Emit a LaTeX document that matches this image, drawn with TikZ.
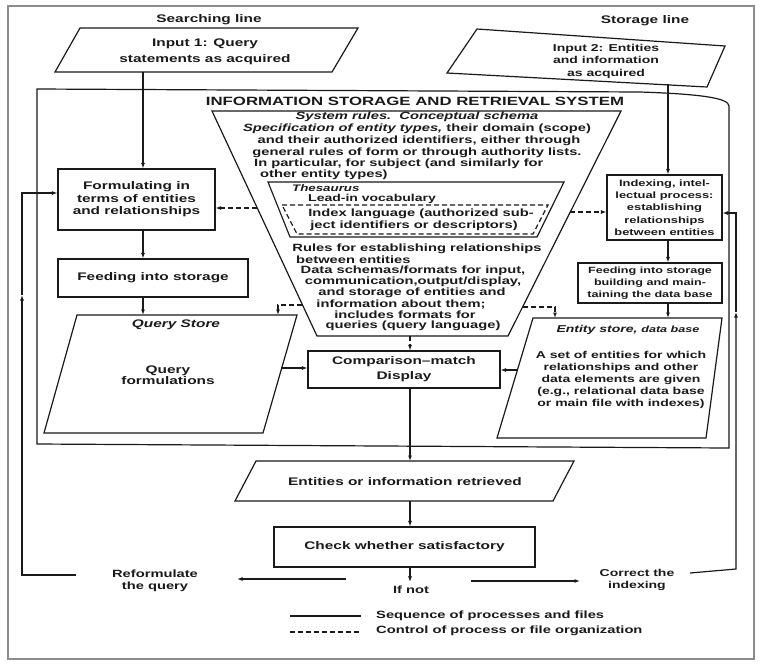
\documentclass[tikz,border=0pt]{standalone}
\usepackage{fontspec}
\setmainfont{Liberation Sans}[FakeStretch=1.4]
\usetikzlibrary{arrows.meta}
\definecolor{ink}{HTML}{1A1A1A}
\newcommand{\myfs}[2]{\fontsize{#1}{#2}\selectfont}
\begin{document}
\begin{tikzpicture}[x=1pt,y=-1pt,
  ln/.style={line width=1.2pt, draw=ink},
  arr/.style={ln, -{Latex[length=5.5pt,width=4pt]}},
  dsh/.style={arr, dash pattern=on 5pt off 3pt},
  dline/.style={ln, dash pattern=on 5pt off 3pt},
  txt/.style={font=\bfseries\myfs{11}{12.5}, align=center, inner sep=0pt, text=ink},
  itx/.style={txt, font=\bfseries\itshape\myfs{11}{12.5}},
  ttx/.style={txt, font=\bfseries\myfs{10.5}{11.5}},
  titx/.style={txt, font=\bfseries\itshape\myfs{10.5}{11.5}},
  box/.style={ln, rectangle, inner sep=0pt, align=center, text=ink, font=\bfseries\myfs{11}{12.5}},
  frame/.style={draw=black!45, line width=1.4pt}
]
\useasboundingbox (0,0) rectangle (762,665);
\fill[white] (0,0) rectangle (762,665);
\draw[frame] (8,6) rectangle (754,659);

% ---------- top labels and inputs
\node[txt] (sl) at (209,20) {Searching line};
\node[txt] (stl) at (645,21) {Storage line};

\coordinate (i1a) at (80,28); \coordinate (i1b) at (358,28);
\coordinate (i1c) at (332,72); \coordinate (i1d) at (55,72);
\draw[ln] (i1a) -- (i1b) -- (i1c) -- (i1d) -- cycle;
\node[txt, font=\bfseries\myfs{11}{16}] (in1) at (205,52) {Input 1: Query\\statements as acquired};

\coordinate (i2a) at (477,29); \coordinate (i2b) at (725,46);
\coordinate (i2c) at (707,87); \coordinate (i2d) at (447,73);
\draw[ln] (i2a) -- (i2b) -- (i2c) -- (i2d) -- cycle;
\node[txt, font=\bfseries\myfs{10}{12.5}] (in2) at (606,61) {Input 2: Entities\\and information\\as acquired};

% ---------- system frame
\draw[ln] (37,89) -- (640,92) .. controls (700,94) and (729,98) .. (729,106) -- (729,448) -- (37,444) -- cycle;
\node[txt, font=\bfseries\myfs{12}{14}] (title) at (415,101) {INFORMATION STORAGE AND RETRIEVAL SYSTEM};

% ---------- system rules trapezoid
\coordinate (tA) at (212,111); \coordinate (tB) at (621,111);
\coordinate (tC) at (508,336); \coordinate (tD) at (317,336);
\draw[ln] (tA) -- (tB) -- (tC) -- (tD) -- cycle;
\node[titx] (r1) at (417,117) {System rules.\ \ Conceptual schema};
\node[ttx] (r2) at (417,129) {\itshape Specification of entity types,\upshape\ their domain (scope)};
\node[ttx] (r3) at (419,141) {and their authorized identifiers, either through};
\node[ttx] (r4) at (417,152.5) {general rules of form or through authority lists.};
\node[ttx, anchor=west] (r5) at (254,164) {In particular, for subject (and similarly for};
\node[ttx, anchor=west] (r6) at (260,175) {other entity types)};

% thesaurus
\draw[ln] (268,182) -- (564,182) -- (537,237) -- (290,237) -- cycle;
\draw[dline] (282,205) -- (548,205) -- (533,234) -- (297,234) -- cycle;
\node[titx, anchor=west, font=\bfseries\itshape\myfs{9.5}{11}] (th1) at (292,188.5) {Thesaurus};
\node[ttx, anchor=west, font=\bfseries\myfs{10}{11}] (th2) at (308,199) {Lead-in vocabulary};
\node[ttx] (th3) at (421,214) {Index language (authorized sub-};
\node[ttx] (th4) at (414,226) {ject identifiers or descriptors)};

\node[ttx] (r7) at (417,249) {Rules for establishing relationships};
\node[ttx, anchor=west] (r8) at (296,260) {between entities};
\node[ttx] (r9) at (413,271) {Data schemas/formats for input,};
\node[ttx] (r10) at (413,282) {communication,output/display,};
\node[ttx] (r11) at (412,293) {and storage of entities and};
\node[ttx] (r12) at (401,304) {information about them;};
\node[ttx] (r13) at (405,315) {includes formats for};
\node[ttx] (r14) at (413,326) {queries (query language)};

% ---------- left column
\node[box, draw, minimum width=157pt, minimum height=61pt] (form) at (136.5,199.5) {Formulating in\\terms of entities\\and relationships};
\node[box, draw, minimum width=190pt, minimum height=38pt] (feedL) at (153,278) {Feeding into storage};

\coordinate (qs1) at (77,315); \coordinate (qs2) at (297,315);
\coordinate (qs3) at (263,433); \coordinate (qs4) at (44,433);
\draw[ln] (qs1) -- (qs2) -- (qs3) -- (qs4) -- cycle;
\node[itx] (qst) at (176,325) {Query Store};
\node[txt, font=\bfseries\myfs{11}{11.5}] (qsb) at (168,375) {Query\\formulations};

% ---------- right column
\node[box, draw, minimum width=115pt, minimum height=65pt, font=\bfseries\myfs{9.2}{12.3}] (idx) at (664.5,207.5) {Indexing, intel-\\lectual process:\\establishing\\relationships\\between entities};
\node[box, draw, minimum width=144pt, minimum height=40pt, font=\bfseries\myfs{9}{12}] (feedR) at (650,283) {Feeding into storage\\building and main-\\taining the data base};

\coordinate (es1) at (533,318); \coordinate (es2) at (722,318);
\coordinate (es3) at (706,438); \coordinate (es4) at (497,438);
\draw[ln] (es1) -- (es2) -- (es3) -- (es4) -- cycle;
\node[itx, font=\bfseries\itshape\myfs{10}{12}] (est) at (628,330) {Entity store, {\myfs{9}{12}data base}};
\node[txt, font=\bfseries\myfs{10}{12}] (esb) at (621,380) {A set of entities for which\\relationships and other\\data elements are given\\(e.g., relational data base\\or main file with indexes)};

% ---------- centre
\node[box, draw, minimum width=192pt, minimum height=37pt, font=\bfseries\myfs{11}{15}] (cmp) at (404,369.5) {Comparison--match\\Display};

\coordinate (rt1) at (256,461); \coordinate (rt2) at (574,461);
\coordinate (rt3) at (553,501); \coordinate (rt4) at (235,501);
\draw[ln] (rt1) -- (rt2) -- (rt3) -- (rt4) -- cycle;
\node[txt] (ret) at (405,482) {Entities or information retrieved};

\node[box, draw, minimum width=261pt, minimum height=40pt] (chk) at (404.5,547) {Check whether satisfactory};

\node[txt, font=\bfseries\myfs{10.5}{12}] (ifnot) at (411,590) {If not};
\node[txt, font=\bfseries\myfs{10.5}{12}] (reform) at (155,581) {Reformulate\\the query};
\node[txt, font=\bfseries\myfs{10}{12}] (corr) at (637,580) {Correct the\\indexing};

% ---------- connectors, searching line
\coordinate (cxL) at (143,72);
\draw[arr] (cxL) -- (form.north -| cxL);
\draw[arr] (form.south -| cxL) -- (feedL.north -| cxL);
\draw[arr] (feedL.south -| cxL) -- (qs1 -| cxL);
\coordinate (qsR) at (281,368);
\draw[arr] (qsR) -- (cmp.west |- qsR);

% storage line
\coordinate (cxR) at (668,84);
\draw[arr] (cxR) -- (idx.north -| cxR);
\draw[arr] (idx.south -| cxR) -- (feedR.north -| cxR);
\draw[arr] (feedR.south -| cxR) -- (es1 -| cxR);
\coordinate (esL) at (517,370);
\draw[arr] (esL) -- (cmp.east |- esL);

% control (dashed)
\coordinate (trL1) at (257,208);
\draw[dsh] (trL1) -- (form.east |- trL1);
\coordinate (trR1) at (570,212);
\draw[dsh] (trR1) -- (idx.west |- trR1);
\coordinate (trL2) at (302,305); \coordinate (trL2b) at (278,305);
\draw[dsh] (trL2) -- (trL2b) -- (qs1 -| trL2b);
\coordinate (trR2) at (523,307); \coordinate (trR2b) at (555,307);
\draw[dsh] (trR2) -- (trR2b) -- (es1 -| trR2b);
\coordinate (tBot) at (410,336);
\draw[dsh] (tBot) -- (cmp.north -| tBot);

% retrieval line
\coordinate (cx) at (410,0);
\draw[arr] (cmp.south -| cx) -- (rt1 -| cx);
\draw[arr] (rt4 -| cx) -- (chk.north -| cx);
\draw[arr] (chk.south -| cx) -- ([yshift=4pt]ifnot.north -| cx);

\coordinate (la1) at (346,579); \coordinate (la2) at (237,579);
\draw[arr] (la1) -- (la2);
\coordinate (ra1) at (471,581); \coordinate (ra2) at (580,581);
\draw[arr] (ra1) -- (ra2);

% feedback loops
\coordinate (fbL0) at (76,575); \coordinate (fbL1) at (22,575);
\coordinate (fbL2) at (22,295); \coordinate (fbL3) at (22,193);
\draw[arr] (fbL0) -- (fbL1) -- (fbL2);
\draw[arr] (fbL2) -- (fbL3) -- (fbL3 -| form.west);

\coordinate (fbR0) at (690,573); \coordinate (fbR1) at (736,569);
\coordinate (fbR2) at (736,312); \coordinate (fbR3) at (736,213);
\draw[arr] (fbR0) -- (fbR1) -- (fbR2);
\draw[arr] (fbR2) -- (fbR3) -- (fbR3 -| idx.east);

% ---------- legend
\coordinate (lg1) at (290,616); \coordinate (lg2) at (361,616);
\draw[ln] (lg1) -- (lg2);
\node[txt, anchor=west, font=\bfseries\myfs{10.5}{12}] (lgt1) at (376,616) {Sequence of processes and files};
\coordinate (lg3) at (290,632); \coordinate (lg4) at (361,632);
\draw[dline] (lg3) -- (lg4);
\node[txt, anchor=west, font=\bfseries\myfs{10.5}{12}] (lgt2) at (376,631) {Control of process or file organization};
\end{tikzpicture}
\end{document}
